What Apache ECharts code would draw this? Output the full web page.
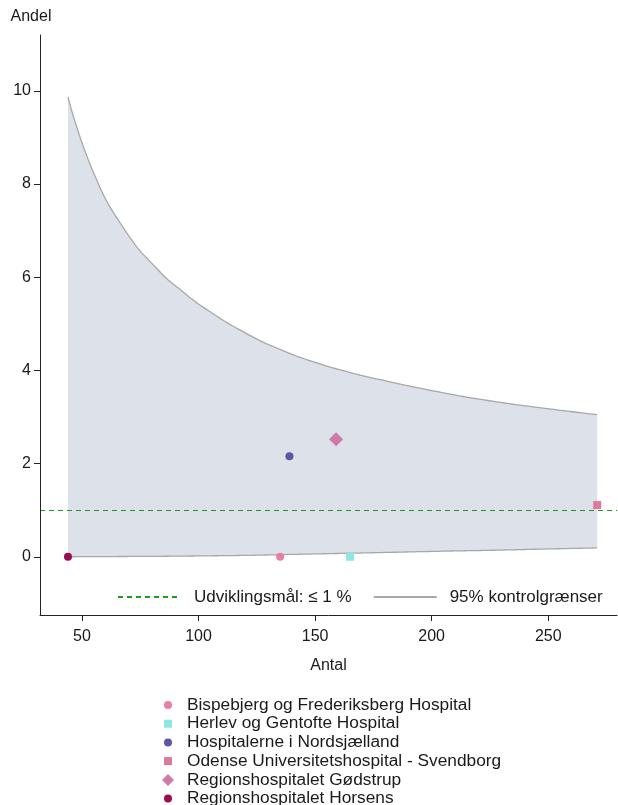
<!DOCTYPE html>
<html>
<head>
<meta charset="utf-8">
<script src="https://cdn.jsdelivr.net/npm/echarts@6/dist/echarts.min.js"></script>
<style>html,body{margin:0;padding:0;background:#fff;}#c{width:618px;height:805px;}</style>
</head>
<body>
<div id="c"></div>
<script>
// Hospitals (categories) and their values
const hospitals = [
  'Bispebjerg og Frederiksberg Hospital',
  'Herlev og Gentofte Hospital',
  'Hospitalerne i Nordsjælland',
  'Odense Universitetshospital - Svendborg',
  'Regionshospitalet Gødstrup',
  'Regionshospitalet Horsens'
];
const antal = [135, 165, 139, 271, 159, 44];
const andel = [0, 0, 2.16, 1.11, 2.52, 0];

// 95% control limits read along the funnel
const limitN     = [44, 55, 69, 83, 92, 104, 121, 135, 149, 164, 178, 205, 226, 248, 271];
const upperLimit = [9.87, 8.24, 6.97, 6.14, 5.74, 5.29, 4.78, 4.45, 4.19, 3.97, 3.80, 3.52, 3.34, 3.19, 3.05];
const lowerLimit = [0, 0.003, 0.006, 0.01, 0.014, 0.02, 0.03, 0.045, 0.06, 0.075, 0.09, 0.12, 0.14, 0.165, 0.19];

// Target
const targetValue = 1;
const targetName = 'Udviklingsmål: ≤ 1 %';
const limitName = '95% kontrolgrænser';

// Tick labels
const xTicks = [50, 100, 150, 200, 250];
const yTicks = [0, 2, 4, 6, 8, 10];

const FONT = "'Liberation Sans', Arial, sans-serif";
const TXT = '#1a1a1a';

const symbols = ['circle', 'rect', 'circle', 'rect', 'diamond', 'circle'];
const sizes = [8, 8, 8, 8, 14, 8];
const colors = ['#e87ea4', '#8de8e2', '#5b57a2', '#df78a1', '#cf7aa7', '#9c0b4f'];

const LIMIT_COLOR = '#a8a8a8';
const BAND_COLOR = '#dde1ea';
const GREEN = '#1f9a1f';

// Smooth a pixel polyline into bezier segments and sample them (rendering only)
function smoothSample(pts, smooth, steps) {
  const out = [pts[0]];
  let cp0 = pts[0].slice();
  for (let i = 1; i < pts.length; i++) {
    const prev = pts[i - 1], cur = pts[i];
    let cp1, nextCp0;
    if (i === pts.length - 1) {
      cp1 = cur.slice(); nextCp0 = cur.slice();
    } else {
      const next = pts[i + 1];
      const dx0 = cur[0] - prev[0], dy0 = cur[1] - prev[1];
      const dx1 = next[0] - cur[0], dy1 = next[1] - cur[1];
      const lp = Math.sqrt(dx0 * dx0 + dy0 * dy0), ln = Math.sqrt(dx1 * dx1 + dy1 * dy1);
      const r = ln / (ln + lp);
      let vx = next[0] - prev[0], vy = next[1] - prev[1];
      let nx = cur[0] + vx * smooth * r, ny = cur[1] + vy * smooth * r;
      nx = Math.max(Math.min(nx, Math.max(next[0], cur[0])), Math.min(next[0], cur[0]));
      ny = Math.max(Math.min(ny, Math.max(next[1], cur[1])), Math.min(next[1], cur[1]));
      vx = nx - cur[0]; vy = ny - cur[1];
      let cx = cur[0] - vx * lp / ln, cy = cur[1] - vy * lp / ln;
      cx = Math.max(Math.min(cx, Math.max(prev[0], cur[0])), Math.min(prev[0], cur[0]));
      cy = Math.max(Math.min(cy, Math.max(prev[1], cur[1])), Math.min(prev[1], cur[1]));
      vx = cur[0] - cx; vy = cur[1] - cy;
      cp1 = [cx, cy];
      nextCp0 = [cur[0] + vx * ln / lp, cur[1] + vy * ln / lp];
    }
    for (let s = 1; s <= steps; s++) {
      const t = s / steps, u = 1 - t;
      out.push([
        u * u * u * prev[0] + 3 * u * u * t * cp0[0] + 3 * u * t * t * cp1[0] + t * t * t * cur[0],
        u * u * u * prev[1] + 3 * u * u * t * cp0[1] + 3 * u * t * t * cp1[1] + t * t * t * cur[1]
      ]);
    }
    cp0 = nextCp0;
  }
  return out;
}

function renderBand(params, api) {
  if (params.dataIndex !== 0) return null;
  const up = limitN.map((n, i) => api.coord([n, upperLimit[i]]));
  const lo = limitN.map((n, i) => api.coord([n, lowerLimit[i]]));
  const upS = smoothSample(up, 0.5, 16);
  const loS = smoothSample(lo, 0.5, 16);
  const poly = upS.concat(loS.slice().reverse());
  return {
    type: 'group',
    children: [
      { type: 'polygon', shape: { points: poly }, style: { fill: BAND_COLOR, stroke: null } },
      { type: 'polyline', shape: { points: upS }, style: { stroke: LIMIT_COLOR, lineWidth: 1.3, fill: null } },
      { type: 'polyline', shape: { points: loS }, style: { stroke: LIMIT_COLOR, lineWidth: 1.3, fill: null } }
    ]
  };
}

const series = [
  {
    name: 'band', type: 'custom', z: 1, silent: true,
    data: limitN.map((n, i) => [n, upperLimit[i], lowerLimit[i]]),
    encode: { x: 0, y: [1, 2] },
    renderItem: renderBand
  },
  {
    name: limitName, type: 'line', data: [], symbol: 'none', z: 2,
    lineStyle: { color: LIMIT_COLOR, width: 1.3 },
    itemStyle: { color: LIMIT_COLOR }
  },
  {
    name: targetName, type: 'line', data: [], symbol: 'none', z: 3,
    lineStyle: { color: GREEN, width: 1.2, type: [5, 4] },
    itemStyle: { color: GREEN },
    markLine: {
      silent: true, symbol: 'none', label: { show: false },
      lineStyle: { color: GREEN, width: 1.2, type: [5, 4] },
      data: [{ yAxis: targetValue }]
    }
  }
];
hospitals.forEach((h, i) => {
  series.push({
    name: h, type: 'scatter', z: 5,
    symbol: symbols[i], symbolSize: sizes[i],
    itemStyle: { color: colors[i], opacity: 1 },
    data: [[antal[i], andel[i]]]
  });
});

const legText = { fontFamily: FONT, fontSize: 17.3, color: TXT, lineHeight: 18 };

const option = {
  animation: false,
  backgroundColor: '#ffffff',
  textStyle: { fontFamily: FONT },
  grid: { left: 40, right: 1, top: 35, bottom: 190, containLabel: false },
  xAxis: {
    type: 'value', min: 32, max: 279.5, z: 6,
    name: 'Antal', nameLocation: 'middle', nameGap: 43,
    nameTextStyle: { fontFamily: FONT, fontSize: 16, color: TXT },
    axisLine: { show: true, onZero: false, lineStyle: { color: '#222', width: 1 } },
    axisTick: { show: true, length: 6, customValues: xTicks, lineStyle: { color: '#222' } },
    axisLabel: { customValues: xTicks, margin: 14, fontFamily: FONT, fontSize: 16, color: TXT },
    splitLine: { show: false }
  },
  yAxis: {
    type: 'value', min: -1.25, max: 11.2, z: 6,
    name: 'Andel', nameLocation: 'end', nameGap: 10,
    nameTextStyle: { fontFamily: FONT, fontSize: 16, color: TXT, align: 'center', padding: [0, 18, 0, 0] },
    axisLine: { show: true, onZero: false, lineStyle: { color: '#222', width: 1 } },
    axisTick: { show: true, length: 6, customValues: yTicks, lineStyle: { color: '#222' } },
    axisLabel: { customValues: yTicks, margin: 9, fontFamily: FONT, fontSize: 16, color: TXT },
    splitLine: { show: false }
  },
  legend: [
    {
      data: [
        { name: targetName, itemStyle: { opacity: 0 } },
        { name: limitName, itemStyle: { opacity: 0 } }
      ],
      orient: 'horizontal', left: 117, top: 588,
      itemWidth: 63, itemHeight: 14, itemGap: 21, padding: 0, selectedMode: false,
      textStyle: Object.assign({}, legText, { fontSize: 17, padding: [0, 0, 0, 8] })
    },
    {
      data: hospitals.slice(0, 4), orient: 'vertical', left: 164, top: 696,
      itemWidth: 8, itemHeight: 8, itemGap: 0.7, padding: 0, selectedMode: false,
      textStyle: Object.assign({}, legText, { padding: [0, 0, 0, 10] })
    },
    {
      data: [hospitals[4]], orient: 'vertical', left: 162, top: 771,
      itemWidth: 12, itemHeight: 12, padding: 0, selectedMode: false,
      textStyle: Object.assign({}, legText, { padding: [0, 0, 0, 8] })
    },
    {
      data: [hospitals[5]], orient: 'vertical', left: 164, top: 789.5,
      itemWidth: 8, itemHeight: 8, padding: 0, selectedMode: false,
      textStyle: Object.assign({}, legText, { padding: [0, 0, 0, 10] })
    }
  ],
  series: series
};

const chart = echarts.init(document.getElementById('c'), null, { renderer: 'canvas' });
chart.setOption(option);
</script>
</body>
</html>
